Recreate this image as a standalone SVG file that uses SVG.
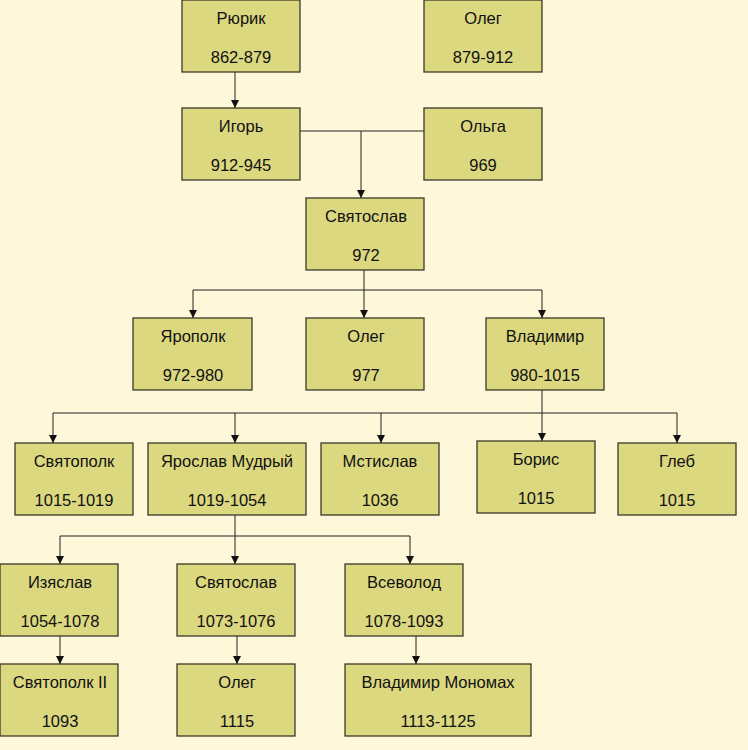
<svg xmlns="http://www.w3.org/2000/svg" width="748" height="750" viewBox="0 0 748 750">
<style>
.box{fill:#DCD880;stroke:#3A3A28;stroke-width:1.3}
.t{font-family:"Liberation Sans",Arial,sans-serif;font-size:16.5px;fill:#111;text-anchor:middle}
.c{stroke:#222;stroke-width:1;fill:none}
</style>
<defs>
<marker id="ah" viewBox="0 0 8 8" refX="8" refY="4" markerWidth="8" markerHeight="8" markerUnits="userSpaceOnUse" orient="auto">
<path d="M0,0 L8,4 L0,8 Z" fill="#111"/>
</marker>
</defs>
<rect width="748" height="750" fill="#FEF7D9"/>
<g id="connectors">
<path class="c" d="M235,72 V108" marker-end="url(#ah)"/>
<path class="c" d="M300,131 H424"/>
<path class="c" d="M361,131 V198" marker-end="url(#ah)"/>
<path class="c" d="M364,270 V318" marker-end="url(#ah)"/>
<path class="c" d="M193,290 H542"/>
<path class="c" d="M193,290 V318" marker-end="url(#ah)"/>
<path class="c" d="M542,290 V318" marker-end="url(#ah)"/>
<path class="c" d="M542,390 V441" marker-end="url(#ah)"/>
<path class="c" d="M53,413 H677"/>
<path class="c" d="M53,413 V443" marker-end="url(#ah)"/>
<path class="c" d="M235,413 V443" marker-end="url(#ah)"/>
<path class="c" d="M381,413 V443" marker-end="url(#ah)"/>
<path class="c" d="M677,413 V443" marker-end="url(#ah)"/>
<path class="c" d="M235,515 V564" marker-end="url(#ah)"/>
<path class="c" d="M60,536 H410"/>
<path class="c" d="M60,536 V564" marker-end="url(#ah)"/>
<path class="c" d="M410,536 V564" marker-end="url(#ah)"/>
<path class="c" d="M60,636 V664" marker-end="url(#ah)"/>
<path class="c" d="M237,636 V664" marker-end="url(#ah)"/>
<path class="c" d="M416,636 V664" marker-end="url(#ah)"/>
</g>
<g id="rurik"><rect class="box" x="182" y="0" width="118" height="72"/><text class="t" x="241" y="24">Рюрик</text><text class="t" x="241" y="63">862-879</text></g>
<g id="oleg1"><rect class="box" x="424" y="0" width="118" height="72"/><text class="t" x="483" y="24">Олег</text><text class="t" x="483" y="63">879-912</text></g>
<g id="igor"><rect class="box" x="182" y="108" width="118" height="72"/><text class="t" x="241" y="132">Игорь</text><text class="t" x="241" y="171">912-945</text></g>
<g id="olga"><rect class="box" x="424" y="108" width="118" height="72"/><text class="t" x="483" y="132">Ольга</text><text class="t" x="483" y="171">969</text></g>
<g id="svyatoslav1"><rect class="box" x="306" y="198" width="118" height="72"/><text class="t" x="366" y="222">Святослав</text><text class="t" x="366" y="261">972</text></g>
<g id="yaropolk"><rect class="box" x="133" y="318" width="119" height="72"/><text class="t" x="193" y="342">Ярополк</text><text class="t" x="193" y="381">972-980</text></g>
<g id="oleg2"><rect class="box" x="306" y="318" width="118" height="72"/><text class="t" x="366" y="342">Олег</text><text class="t" x="366" y="381">977</text></g>
<g id="vladimir"><rect class="box" x="486" y="318" width="118" height="72"/><text class="t" x="545" y="342">Владимир</text><text class="t" x="545" y="381">980-1015</text></g>
<g id="svyatopolk"><rect class="box" x="15" y="443" width="118" height="72"/><text class="t" x="74" y="467">Святополк</text><text class="t" x="74" y="506">1015-1019</text></g>
<g id="yaroslav"><rect class="box" x="148" y="443" width="158" height="72"/><text class="t" x="227" y="467">Ярослав Мудрый</text><text class="t" x="227" y="506">1019-1054</text></g>
<g id="mstislav"><rect class="box" x="321" y="443" width="118" height="72"/><text class="t" x="380" y="467">Мстислав</text><text class="t" x="380" y="506">1036</text></g>
<g id="boris"><rect class="box" x="477" y="441" width="118" height="72"/><text class="t" x="536" y="465">Борис</text><text class="t" x="536" y="504">1015</text></g>
<g id="gleb"><rect class="box" x="618" y="443" width="118" height="72"/><text class="t" x="677" y="467">Глеб</text><text class="t" x="677" y="506">1015</text></g>
<g id="izyaslav"><rect class="box" x="0" y="564" width="118" height="72"/><text class="t" x="60" y="588">Изяслав</text><text class="t" x="60" y="627">1054-1078</text></g>
<g id="svyatoslav2"><rect class="box" x="177" y="564" width="118" height="72"/><text class="t" x="236" y="588">Святослав</text><text class="t" x="236" y="627">1073-1076</text></g>
<g id="vsevolod"><rect class="box" x="345" y="564" width="118" height="72"/><text class="t" x="404" y="588">Всеволод</text><text class="t" x="404" y="627">1078-1093</text></g>
<g id="svyatopolk2"><rect class="box" x="0" y="664" width="118" height="72"/><text class="t" x="60" y="688">Святополк II</text><text class="t" x="60" y="727">1093</text></g>
<g id="oleg3"><rect class="box" x="177" y="664" width="118" height="72"/><text class="t" x="237" y="688">Олег</text><text class="t" x="237" y="727">1115</text></g>
<g id="monomakh"><rect class="box" x="345" y="664" width="186" height="72"/><text class="t" x="438" y="688">Владимир Мономах</text><text class="t" x="438" y="727">1113-1125</text></g>
</svg>
